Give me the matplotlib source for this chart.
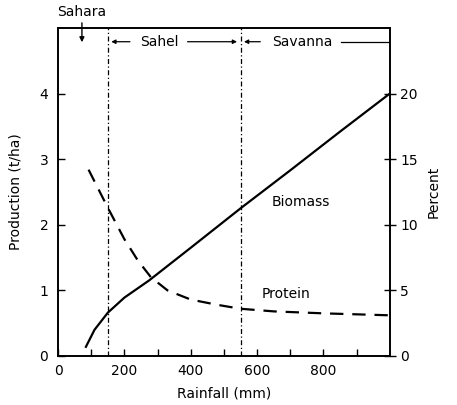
import numpy as np
import matplotlib.pyplot as plt

# rainfall (mm) vs biomass production (t/ha)
bio_rain = [84, 110, 150, 200, 274, 400, 550, 700, 850, 1000]
bio_prod = [0.14, 0.40, 0.66, 0.89, 1.15, 1.65, 2.25, 2.83, 3.42, 4.0]

# rainfall (mm) vs protein content (percent)
prot_rain = [92, 120, 150, 200, 240, 280, 330, 400, 480, 550, 650, 800, 1000]
prot_pct = [14.2, 12.8, 11.3, 8.9, 7.3, 6.0, 5.0, 4.3, 3.9, 3.6, 3.4, 3.25, 3.1]

zone_edges = [150, 550]


def grafico():
    fig = plt.figure(figsize=(4.57, 4.05), dpi=100)
    ax = fig.add_axes([0.127, 0.121, 0.726, 0.81])
    ax2 = ax.twinx()

    ax.plot(bio_rain, bio_prod, color="black", lw=1.6)
    ax2.plot(prot_rain, prot_pct, color="black", lw=1.6, ls=(0, (6, 4)))

    for e in zone_edges:
        ax.axvline(e, color="black", lw=0.9, ls=(0, (4, 2, 1, 2)))

    ax.set_xlim(0, 1000)
    ax.set_ylim(0, 5)
    ax2.set_ylim(0, 25)

    ax.set_xticks(np.arange(0, 1000, 100))
    ax.set_xticklabels(["0", "", "200", "", "400", "", "600", "", "800", ""])
    ax.set_yticks([0, 1, 2, 3, 4])
    ax2.set_yticks([0, 5, 10, 15, 20])
    ax.tick_params(direction="in", length=5, width=1, labelsize=10)
    ax.tick_params(axis="x", pad=6)
    ax.tick_params(axis="y", pad=7)
    ax2.tick_params(direction="inout", length=8, width=1, labelsize=10)

    for a in (ax, ax2):
        for s in a.spines.values():
            s.set_linewidth(1.2)

    ax.set_xlabel("Rainfall (mm)", fontsize=10, labelpad=6)
    ax.set_ylabel("Production (t/ha)", fontsize=10, labelpad=12)
    ax2.set_ylabel("Percent", fontsize=10, labelpad=6)

    ax.text(732, 2.34, "Biomass", fontsize=10, ha="center", va="center")
    ax.text(687, 0.95, "Protein", fontsize=10, ha="center", va="center")

    # zone annotations
    ax.text(72, 5.24, "Sahara", fontsize=10, ha="center", va="center", clip_on=False)
    ax.annotate("", xy=(72, 4.74), xytext=(72, 5.12),
                arrowprops=dict(arrowstyle="-|>", color="black", lw=1, mutation_scale=7),
                annotation_clip=False)
    yz = 4.79
    ax.text(304, yz, "Sahel", fontsize=10, ha="center", va="center")
    ax.text(736, yz, "Savanna", fontsize=10, ha="center", va="center")
    arrow = dict(arrowstyle="-|>", color="black", lw=0.9, mutation_scale=6)
    ax.annotate("", xy=(152, yz), xytext=(225, yz), arrowprops=arrow)
    ax.annotate("", xy=(548, yz), xytext=(382, yz), arrowprops=arrow)
    ax.annotate("", xy=(552, yz), xytext=(618, yz), arrowprops=arrow)
    ax.plot([852, 1000], [yz, yz], color="black", lw=0.9)

    fig.savefig("out.png")


if __name__ == "__main__":
    grafico()
